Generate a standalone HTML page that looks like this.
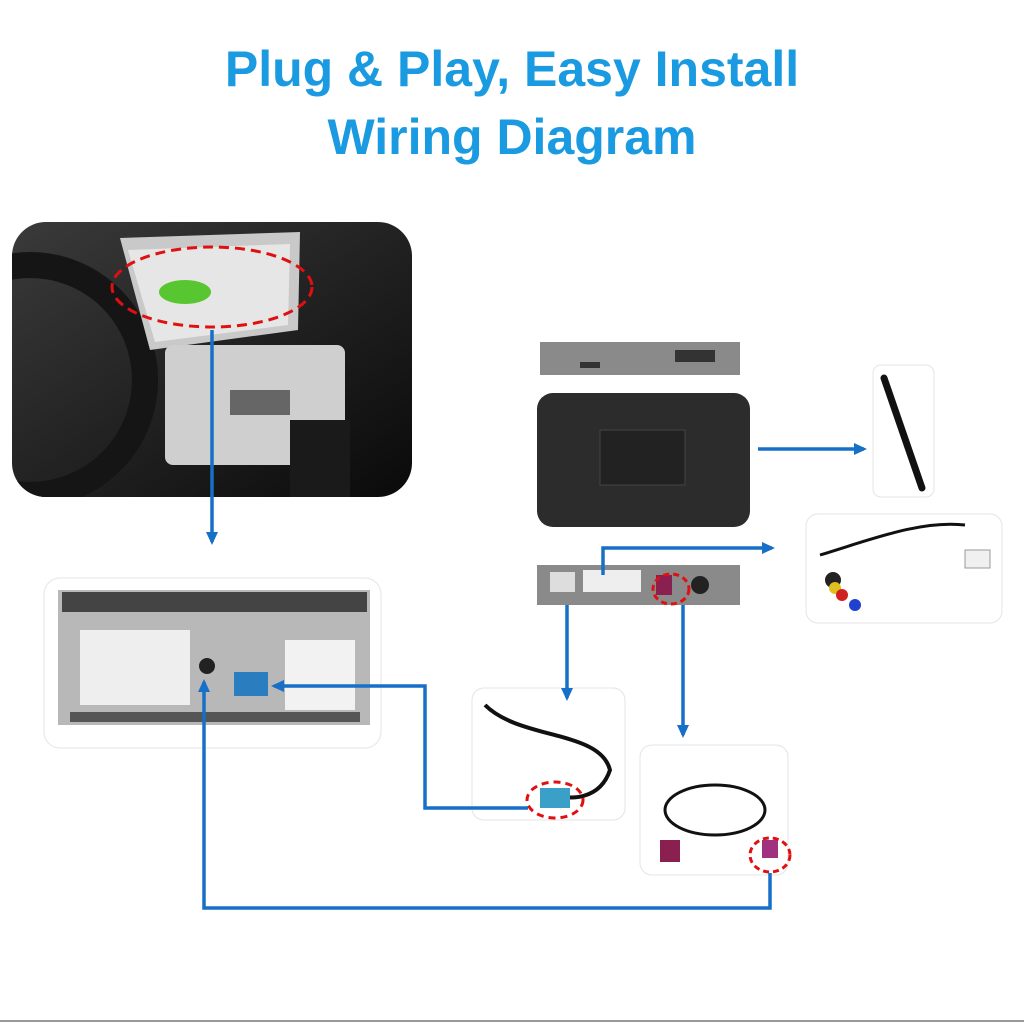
<!DOCTYPE html>
<html><head><meta charset="utf-8"><style>
html,body{margin:0;padding:0;background:#fff;}
body{width:1024px;height:1024px;position:relative;overflow:hidden;font-family:"Liberation Sans",sans-serif;}
.t{position:absolute;left:0;width:1024px;text-align:center;color:#1a9ae0;font-weight:bold;font-size:50px;}
</style></head><body>
<div class="t" style="top:40px">Plug &amp; Play, Easy Install</div>
<div class="t" style="top:108px">Wiring Diagram</div>

<svg width="1024" height="1024" style="position:absolute;left:0;top:0">
<defs>
<marker id="a" markerWidth="14" markerHeight="14" refX="10" refY="7" orient="auto" markerUnits="userSpaceOnUse"><path d="M0,1 L13,7 L0,13z" fill="#1670c8"/></marker>
<linearGradient id="car" x1="0" y1="0" x2="1" y2="1"><stop offset="0" stop-color="#3a3a3a"/><stop offset="1" stop-color="#0a0a0a"/></linearGradient>
<clipPath id="cc"><rect x="12" y="222" width="400" height="275" rx="34"/></clipPath>
</defs>
<!-- car photo -->
<g clip-path="url(#cc)">
<rect x="12" y="222" width="400" height="275" fill="url(#car)"/>
<circle cx="30" cy="380" r="115" fill="none" stroke="#151515" stroke-width="26"/>
<path d="M120,238 L300,232 L298,330 L150,350z" fill="#c9c9c9"/>
<path d="M128,250 L290,244 L288,325 L155,342z" fill="#e6e6e6"/>
<ellipse cx="185" cy="292" rx="26" ry="12" fill="#58c630"/>
<rect x="165" y="345" width="180" height="120" rx="8" fill="#cfcfcf"/>
<rect x="230" y="390" width="60" height="25" fill="#666"/>
<rect x="290" y="420" width="60" height="77" fill="#1a1a1a"/>
<ellipse cx="212" cy="287" rx="100" ry="40" fill="none" stroke="#e01010" stroke-width="3" stroke-dasharray="10,6"/>
</g>
<!-- head unit card -->
<rect x="44" y="578" width="337" height="170" rx="16" fill="#fff" stroke="#e4e4e4"/>
<rect x="58" y="590" width="312" height="135" fill="#b8b8b8"/>
<rect x="62" y="592" width="305" height="20" fill="#444"/>
<rect x="80" y="630" width="110" height="75" fill="#eee"/>
<circle cx="207" cy="666" r="8" fill="#222"/>
<rect x="234" y="672" width="34" height="24" fill="#2a7ec0"/>
<rect x="285" y="640" width="70" height="70" fill="#f2f2f2"/>
<rect x="70" y="712" width="290" height="10" fill="#555"/>
<!-- module top strip -->
<rect x="540" y="342" width="200" height="33" fill="#8a8a8a"/>
<rect x="675" y="350" width="40" height="12" fill="#333"/>
<rect x="580" y="362" width="20" height="6" fill="#333"/>
<!-- module body -->
<rect x="537" y="393" width="213" height="134" rx="16" fill="#2c2c2c"/>
<rect x="600" y="430" width="85" height="55" fill="#222" stroke="#444"/>
<!-- antenna card -->
<rect x="873" y="365" width="61" height="132" rx="8" fill="#fff" stroke="#e4e4e4"/>
<line x1="884" y1="378" x2="922" y2="488" stroke="#111" stroke-width="7" stroke-linecap="round"/>
<!-- cable card -->
<rect x="806" y="514" width="196" height="109" rx="12" fill="#fff" stroke="#e4e4e4"/>
<path d="M820,555 C870,540 920,520 965,525" stroke="#111" stroke-width="3" fill="none"/>
<rect x="965" y="550" width="25" height="18" fill="#f0f0f0" stroke="#999"/>
<circle cx="833" cy="580" r="8" fill="#222"/><circle cx="835" cy="588" r="6" fill="#e0c020"/><circle cx="842" cy="595" r="6" fill="#d02020"/><circle cx="855" cy="605" r="6" fill="#2040d0"/>
<!-- module bottom strip -->
<rect x="537" y="565" width="203" height="40" fill="#8a8a8a"/>
<rect x="550" y="572" width="25" height="20" fill="#ddd"/>
<rect x="583" y="570" width="58" height="22" fill="#eee"/>
<rect x="656" y="575" width="16" height="20" fill="#8a2050"/>
<circle cx="700" cy="585" r="9" fill="#222"/>
<ellipse cx="671" cy="589" rx="18" ry="15" fill="none" stroke="#e01010" stroke-width="3" stroke-dasharray="6,4"/>
<!-- cable card 2 -->
<rect x="472" y="688" width="153" height="132" rx="12" fill="#fff" stroke="#e4e4e4"/>
<path d="M485,705 C520,740 600,730 610,770 C600,800 570,800 555,795" stroke="#111" stroke-width="4" fill="none"/>
<rect x="540" y="788" width="30" height="20" fill="#3aa0c8"/>
<ellipse cx="555" cy="800" rx="28" ry="18" fill="none" stroke="#e01010" stroke-width="3" stroke-dasharray="7,5"/>
<!-- cable card 3 -->
<rect x="640" y="745" width="148" height="130" rx="12" fill="#fff" stroke="#e4e4e4"/>
<ellipse cx="715" cy="810" rx="50" ry="25" fill="none" stroke="#111" stroke-width="3"/>
<rect x="660" y="840" width="20" height="22" fill="#8a2050"/>
<rect x="762" y="840" width="16" height="18" fill="#a03080"/>
<ellipse cx="770" cy="855" rx="20" ry="17" fill="none" stroke="#e01010" stroke-width="3" stroke-dasharray="6,4"/>
<!-- arrows -->
<g stroke="#1670c8" stroke-width="3.5" fill="none">
<path d="M212,330 V542" marker-end="url(#a)"/>
<path d="M758,449 H864" marker-end="url(#a)"/>
<path d="M603,575 V548 H772" marker-end="url(#a)"/>
<path d="M567,605 V698" marker-end="url(#a)"/>
<path d="M683,605 V735" marker-end="url(#a)"/>
<path d="M528,808 H425 V686 H274" marker-end="url(#a)"/>
<path d="M770,873 V908 H204 V682" marker-end="url(#a)"/>
</g>
<line x1="0" y1="1021" x2="1024" y2="1021" stroke="#999" stroke-width="2"/>
</svg>
</body></html>
